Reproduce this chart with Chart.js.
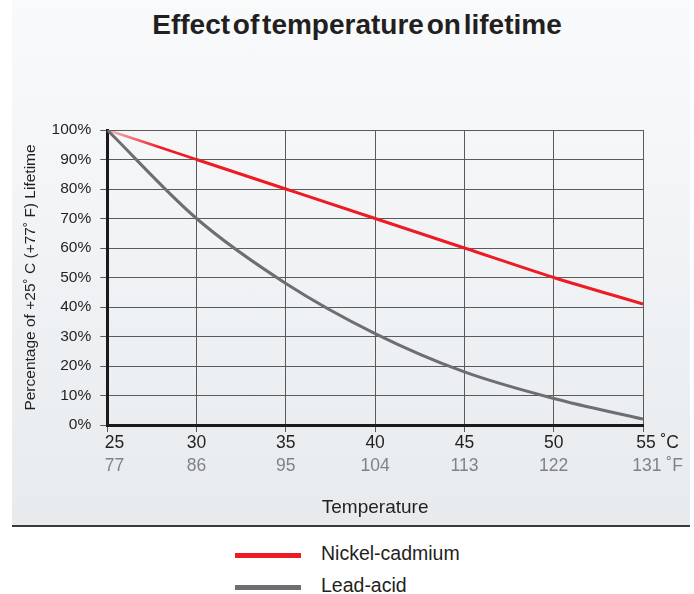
<!DOCTYPE html>
<html>
<head>
<meta charset="utf-8">
<script src="https://cdn.jsdelivr.net/npm/chart.js@4"></script>
<style>
  html, body { margin: 0; padding: 0; background: #ffffff; }
  #page { position: relative; width: 694px; height: 594px; overflow: hidden; }
  #panel { position: absolute; left: 12px; top: 0; width: 678px; height: 525px;
           background: linear-gradient(#f9fafb, #e7ebee); border-bottom: 2px solid #3a3a3a; }
  #title { position: absolute; left: 12px; width: 690px; top: 10.5px; margin: 0; text-align: center;
           font-family: "Liberation Sans", sans-serif; font-weight: bold; line-height: 28px;
           font-size: 28px; color: #231f20; word-spacing: -5px; letter-spacing: 0; }
  #chartWrap { position: absolute; left: 0; top: 0; width: 694px; height: 527px; }
  .leg { position: absolute; left: 235px; font-family: "Liberation Sans", sans-serif; font-size: 19.5px; color: #231f20; }
  .leg .sw { position: absolute; left: 0; width: 66px; height: 5px; }
  .leg .tx { position: absolute; left: 86px; white-space: nowrap; }
</style>
</head>
<body>
<div id="page">
  <div id="panel"></div>
  <h1 id="title">Effect of temperature on lifetime</h1>
  <div id="chartWrap"><canvas id="c" width="694" height="527"></canvas></div>
  <div class="leg" style="top:553px;"><div class="sw" id="sw0"></div><div class="tx" id="tx0" style="top:-11px;"></div></div>
  <div class="leg" style="top:585px;"><div class="sw" id="sw1"></div><div class="tx" id="tx1" style="top:-11px;"></div></div>
</div>
<script>
// ---- data ----
const tempsC = [25, 30, 35, 40, 45, 50, 55];
const tempsF = [77, 86, 95, 104, 113, 122, 131];
const nickelCadmium = [100, 90, 80, 70, 60, 50, 41];
const leadAcid = [100, 70, 48, 31, 18, 9, 2];
const seriesNames = ['Nickel-cadmium', 'Lead-acid'];
const seriesColors = ['#ed1c24', '#6d6e71'];
const yTicks = [0, 10, 20, 30, 40, 50, 60, 70, 80, 90, 100];

const toPts = arr => arr.map((v, i) => ({ x: tempsC[i], y: v }));

// HTML legend
seriesNames.forEach((n, i) => {
  document.getElementById('sw' + i).style.background = seriesColors[i];
  document.getElementById('tx' + i).textContent = n;
});

const sans = '"Liberation Sans", sans-serif';
const gridColor = '#5a5a5a';
const lastC = tempsC[tempsC.length - 1];
const canvas = document.getElementById('c');
const g2d = canvas.getContext('2d');

// first Ni-Cd segment fades in from a thin, light start (as in the original)
const fadeSeg = (ctx) => {
  if (ctx.p0DataIndex !== 0) return undefined;
  const gr = g2d.createLinearGradient(ctx.p0.x, 0, ctx.p1.x, 0);
  gr.addColorStop(0, 'rgba(237,28,36,0.25)');
  gr.addColorStop(0.6, seriesColors[0]);
  gr.addColorStop(1, seriesColors[0]);
  return gr;
};

new Chart(canvas, {
  type: 'line',
  data: {
    datasets: [
      { label: seriesNames[1], data: toPts(leadAcid), borderColor: seriesColors[1], backgroundColor: seriesColors[1],
        borderWidth: 3, pointRadius: 0, cubicInterpolationMode: 'monotone', xAxisID: 'x', yAxisID: 'y' },
      { label: seriesNames[0], data: toPts(nickelCadmium), borderColor: seriesColors[0], backgroundColor: seriesColors[0],
        borderWidth: 3, pointRadius: 0, cubicInterpolationMode: 'monotone', xAxisID: 'x', yAxisID: 'y',
        segment: { borderColor: fadeSeg, borderWidth: c => c.p0DataIndex === 0 ? 2.6 : undefined } }
    ]
  },
  options: {
    responsive: false,
    animation: false,
    layout: { padding: { left: 17, top: 130, right: 51, bottom: 3.6 } },
    plugins: { legend: { display: false }, tooltip: { enabled: false }, title: { display: false } },
    scales: {
      x: {
        type: 'linear', position: 'bottom', weight: 0,
        min: tempsC[0], max: lastC,
        afterBuildTicks: s => { s.ticks = tempsC.map(v => ({ value: v })); },
        ticks: {
          color: '#231f20', padding: 1, maxRotation: 0, autoSkip: false,
          font: { family: sans, size: 17.5 },
          callback: v => v === tempsC[0] ? '   ' + v : (v === lastC ? '      ' + v + ' \u02DAC' : String(v))
        },
        grid: { color: gridColor, lineWidth: 1, tickLength: 7, drawTicks: true },
        border: { display: true, color: '#1a1a1a', width: 3 }
      },
      xF: {
        type: 'linear', position: 'bottom', weight: 1,
        min: tempsC[0], max: lastC,
        afterBuildTicks: s => { s.ticks = tempsC.map(v => ({ value: v })); },
        ticks: {
          color: '#808285', padding: 1, maxRotation: 0, autoSkip: false,
          font: { family: sans, size: 17.5 },
          callback: v => {
            const f = tempsF[tempsC.indexOf(v)];
            return v === tempsC[0] ? '   ' + f : (v === lastC ? '      ' + f + ' \u02DAF' : String(f));
          }
        },
        grid: { display: false, drawTicks: false },
        border: { display: false },
        title: { display: true, text: 'Temperature', color: '#231f20',
                 font: { family: sans, size: 19 }, padding: { top: 18.6, bottom: 4 } }
      },
      y: {
        min: 0, max: 100,
        afterBuildTicks: s => { s.ticks = yTicks.map(v => ({ value: v })); },
        ticks: { color: '#231f20', padding: 9, font: { family: sans, size: 15.5 }, callback: v => v + '%' },
        grid: { color: gridColor, lineWidth: 1, tickLength: 7, drawTicks: true },
        border: { display: true, color: '#1a1a1a', width: 3 },
        title: { display: true, text: 'Percentage of +25\u02DA C (+77\u02DA F) Lifetime', color: '#231f20',
                 font: { family: sans, size: 15.5 }, padding: { top: 4, bottom: 3 } }
      }
    }
  }
});
</script>
</body>
</html>
